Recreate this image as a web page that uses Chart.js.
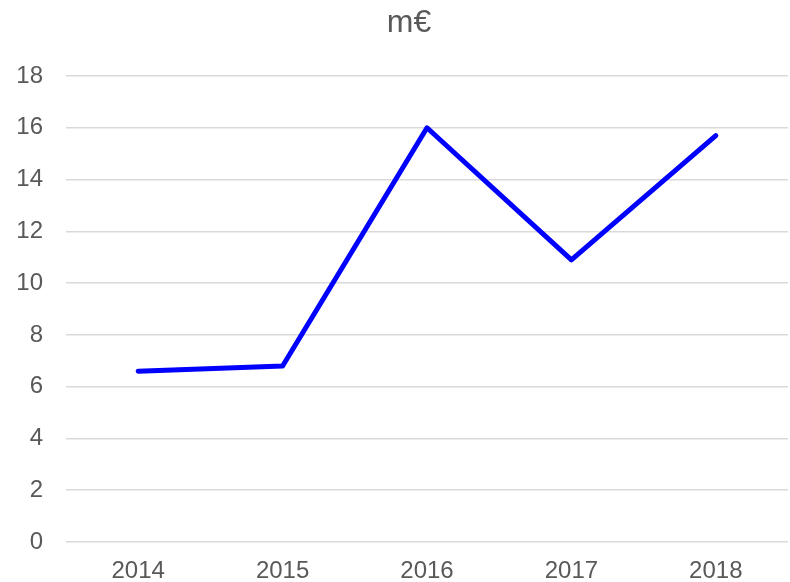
<!DOCTYPE html>
<html>
<head>
<meta charset="utf-8">
<script src="https://cdn.jsdelivr.net/npm/chart.js@4"></script>
<style>
  html, body { margin: 0; padding: 0; background: #ffffff; }
  #wrap { width: 790px; height: 582px; }
</style>
</head>
<body>
<div id="wrap"><canvas id="grafico" width="790" height="582"></canvas></div>
<script>
const anos = ["2014", "2015", "2016", "2017", "2018"];
const valores = [6.6, 6.8, 16.0, 10.9, 15.7];
const titulo = "m€";
const ejeMin = 0;
const ejeMax = 18;
const paso = 2;

const gris = "#595959";
const fuente = "'Liberation Sans', Arial, sans-serif";

// el titulo va un poco a la derecha del centro, como en el original
const tituloPlugin = {
  id: "tituloPlugin",
  afterDraw(chart) {
    const c = chart.ctx;
    c.save();
    c.font = "32px " + fuente;
    c.fillStyle = gris;
    c.textAlign = "center";
    c.textBaseline = "middle";
    c.fillText(titulo, chart.width / 2 + 14, 23);
    c.restore();
  }
};

const ctx = document.getElementById("grafico").getContext("2d");
const grafico = new Chart(ctx, {
  type: "line",
  data: {
    labels: anos,
    datasets: [{
      label: titulo,
      data: valores,
      borderColor: "#0000FF",
      backgroundColor: "#0000FF",
      borderWidth: 5,
      borderCapStyle: "round",
      borderJoinStyle: "round",
      pointRadius: 0,
      tension: 0,
      fill: false
    }]
  },
  plugins: [tituloPlugin],
  options: {
    responsive: false,
    animation: false,
    layout: { padding: { left: 0, right: 2, top: 76, bottom: 0 } },
    plugins: {
      legend: { display: false },
      tooltip: { enabled: false },
      title: { display: false }
    },
    scales: {
      x: {
        offset: true,
        afterFit: (scale) => { scale.height = 40; },
        grid: { display: false, drawTicks: false },
        border: { display: false },
        ticks: {
          color: gris,
          padding: 17,
          maxRotation: 0,
          font: { family: fuente, size: 24, lineHeight: 1 }
        }
      },
      y: {
        min: ejeMin,
        max: ejeMax,
        afterFit: (scale) => { scale.width = 66; },
        grid: { color: "#d9d9d9", lineWidth: 1.5, drawTicks: false },
        border: { display: false },
        ticks: {
          stepSize: paso,
          color: gris,
          padding: 23,
          font: { family: fuente, size: 24, lineHeight: 1 }
        }
      }
    }
  }
});
</script>
</body>
</html>
